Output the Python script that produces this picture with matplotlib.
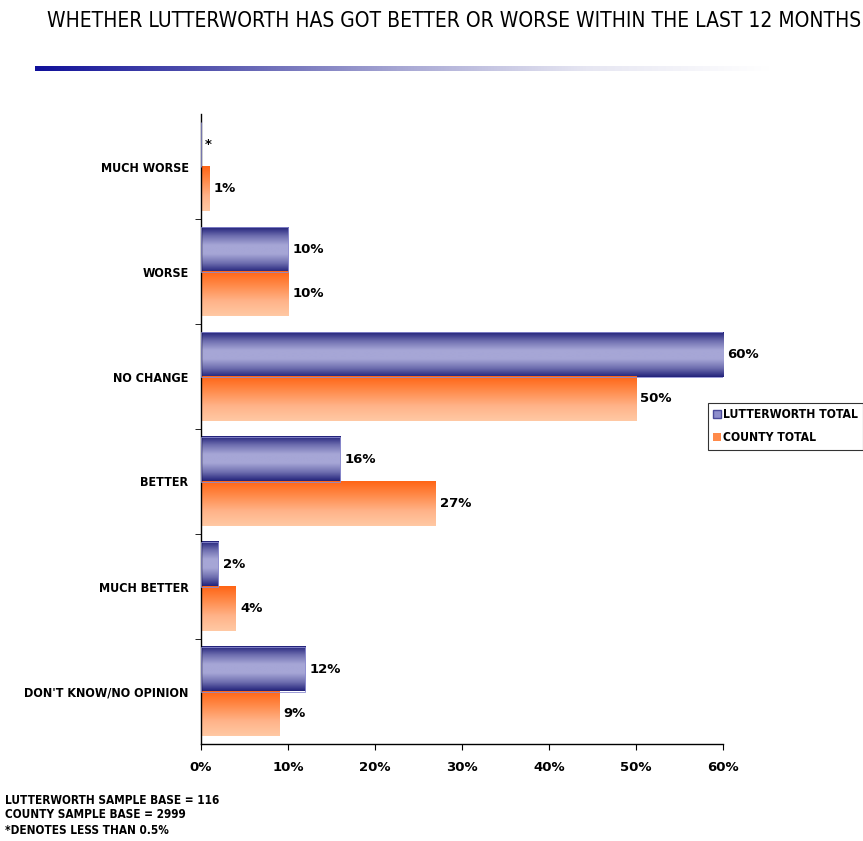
import numpy as np
import matplotlib
matplotlib.use("Agg")
import matplotlib.pyplot as plt
from matplotlib.colors import LinearSegmentedColormap
from matplotlib.patches import Patch

categories = ["MUCH WORSE", "WORSE", "NO CHANGE", "BETTER", "MUCH BETTER",
              "DON'T KNOW/NO OPINION"]
lutterworth = [0, 10, 60, 16, 2, 12]
county = [1, 10, 50, 27, 4, 9]
lutterworth_labels = ["*", "10%", "60%", "16%", "2%", "12%"]
county_labels = ["1%", "10%", "50%", "27%", "4%", "9%"]
series_names = ["LUTTERWORTH TOTAL", "COUNTY TOTAL"]
x_ticks = [0, 10, 20, 30, 40, 50, 60]
x_tick_labels = ["0%", "10%", "20%", "30%", "40%", "50%", "60%"]
title = "WHETHER LUTTERWORTH HAS GOT BETTER OR WORSE WITHIN THE LAST 12 MONTHS"
notes = ["LUTTERWORTH SAMPLE BASE = 116", "COUNTY SAMPLE BASE = 2999",
         "*DENOTES LESS THAN 0.5%"]

W, H = 863, 841
fig = plt.figure(figsize=(W / 100, H / 100), dpi=100)
fig.patch.set_facecolor("white")

cond = dict(family="DejaVu Sans", fontstretch="condensed", fontweight="bold")

# gradients for the bar fills (vertical, top to bottom)
navy_cmap = LinearSegmentedColormap.from_list(
    "navy", ["#22227a", "#6f6fb0", "#a6a6d6", "#a6a6d6", "#6f6fb0", "#22227a"])
orange_cmap = LinearSegmentedColormap.from_list(
    "orange", ["#ff6414", "#ff8c4c", "#ffb389", "#ffc9a4"])

ax = fig.add_axes([201 / W, 1 - 744 / H, 522 / W, 630 / H])
y = np.arange(len(categories))
h = 0.42
bars_l = ax.barh(y - h / 2, lutterworth, height=h, facecolor="none",
                 edgecolor="#8c8cd0", linewidth=0.6, zorder=3)
bars_c = ax.barh(y + h / 2, county, height=h, facecolor="none",
                 edgecolor="none", zorder=3)

grad = np.linspace(0, 1, 256).reshape(-1, 1)
for bars, cmap in ((bars_l, navy_cmap), (bars_c, orange_cmap)):
    for r in bars:
        x0, y0, w_, h_ = r.get_x(), r.get_y(), r.get_width(), r.get_height()
        if w_ <= 0:
            continue
        ax.imshow(grad, cmap=cmap, aspect="auto", interpolation="bilinear",
                  extent=[x0, x0 + w_, y0 + h_, y0], zorder=2)

for vals, labs, off in ((lutterworth, lutterworth_labels, -h / 2),
                        (county, county_labels, h / 2)):
    for i, (v, lab) in enumerate(zip(vals, labs)):
        ax.annotate(lab, (v, i + off), xytext=(3, 0), textcoords="offset points",
                    va="center", ha="left", fontsize=9.5, fontweight="bold")

ax.set_xlim(0, 60)
ax.set_ylim(len(categories) - 0.5, -0.5)
ax.set_xticks(x_ticks)
ax.set_xticklabels(x_tick_labels, fontsize=9.5, fontweight="bold")
ax.set_yticks(y)
ax.set_yticklabels(categories, fontsize=9, **cond)
ax.tick_params(axis="y", which="major", length=0, pad=9)
ax.set_yticks(np.arange(-0.5, len(categories), 1)[1:-1], minor=True)
ax.tick_params(axis="y", which="minor", length=4, direction="out")
ax.tick_params(axis="x", length=4, direction="out", pad=8)
for s in ("top", "right"):
    ax.spines[s].set_visible(False)
for s in ("left", "bottom"):
    ax.spines[s].set_linewidth(1.0)

# title: condensed face, shrunk to fit the page width if needed
title_text = fig.text(454 / W, 1 - 21 / H, title, ha="center", va="center",
                      fontsize=17.5, fontstretch="condensed",
                      family=["DejaVu Sans"])
renderer = fig.canvas.get_renderer()
tw = title_text.get_window_extent(renderer).width
if tw > 808:
    title_text.set_fontsize(17.5 * 808 / tw)

# decorative fading rule under the title
rule = fig.add_axes([35 / W, 1 - 71 / H, 735 / W, 5 / H])
rule_cmap = LinearSegmentedColormap.from_list(
    "rule", ["#10109a", "#5a5ab0", "#a8a8d4", "#e6e6f2", "#ffffff"])
rule.imshow(np.linspace(0, 1, 256).reshape(1, -1), cmap=rule_cmap,
            aspect="auto", extent=[0, 1, 0, 1])
rule.axis("off")

# legend
handles = [Patch(facecolor="#8e8ecc", edgecolor="#4a4a9a"),
           Patch(facecolor="#ff8a4a", edgecolor="none")]
leg = fig.legend(handles, series_names, loc="upper left",
                 bbox_to_anchor=(708 / W, 1 - 403 / H), frameon=True,
                 fancybox=False, borderpad=0.45, handlelength=0.6,
                 handleheight=0.7, handletextpad=0.2, labelspacing=0.8,
                 prop={"weight": "bold", "size": 8.7, "family": "DejaVu Sans",
                       "stretch": "condensed"}, borderaxespad=0)
leg.get_frame().set_edgecolor("black")
leg.get_frame().set_linewidth(0.8)

for k, line in enumerate(notes):
    fig.text(5 / W, 1 - (800 + 15 * k) / H, line, ha="left", va="center",
             fontsize=8.5, **cond)

fig.savefig("out.png", dpi=100)
